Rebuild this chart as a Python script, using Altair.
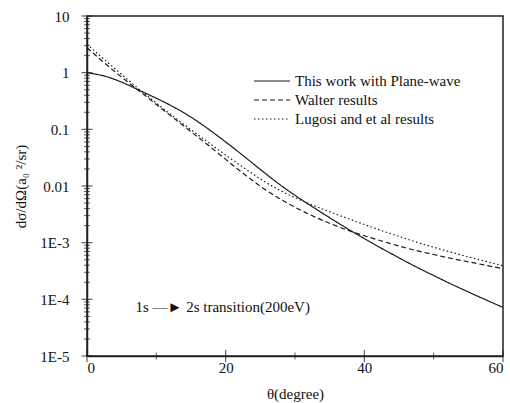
import altair as alt
import pandas as pd

# scattering angle (degree)
theta = [0, 2.5, 5, 7.5, 10, 12.5, 15, 17.5, 20, 22.5, 25, 27.5, 30,
         32.5, 35, 37.5, 40, 42.5, 45, 47.5, 50, 52.5, 55, 57.5, 60]

# differential cross sections (a0^2/sr)
this_work = [1.0, 0.89, 0.69, 0.49, 0.355, 0.25, 0.166, 0.102, 0.060, 0.0347,
             0.0195, 0.0112, 0.0068, 0.0043, 0.00275, 0.00178, 0.00117, 7.9e-4,
             5.4e-4, 3.7e-4, 2.63e-4, 1.86e-4, 1.35e-4, 9.8e-5, 7.2e-5]
walter = [2.75, 1.48, 0.83, 0.48, 0.275, 0.158, 0.091, 0.0525, 0.0295, 0.0166,
          0.0098, 0.0062, 0.0042, 0.00295, 0.00219, 0.00166, 0.00132, 0.00107,
          8.7e-4, 7.2e-4, 6.2e-4, 5.25e-4, 4.6e-4, 4.0e-4, 3.47e-4]
lugosi = [3.16, 1.70, 0.93, 0.51, 0.29, 0.166, 0.098, 0.059, 0.035, 0.0214,
          0.0132, 0.0087, 0.0062, 0.0046, 0.0035, 0.0027, 0.0021, 0.00162,
          0.00129, 0.00102, 8.3e-4, 6.8e-4, 5.6e-4, 4.7e-4, 3.9e-4]

series_names = ["This work with Plane-wave", "Walter results", "Lugosi and et al results"]

# tick positions
x_major_ticks = [0, 20, 40, 60]
x_minor_ticks = [10, 30, 50]
y_major_ticks = [1e-5, 1e-4, 1e-3, 0.01, 0.1, 1.0, 10.0]
y_minor_ticks = [k * 10.0 ** e for e in range(-5, 1) for k in range(2, 10)]

annotation_text = ["1s \u2014\u25ba 2s transition(200eV)"]
annotation_theta = [7.0]
annotation_value = [7.2e-5]

rows = []
for name, vals in zip(series_names, [this_work, walter, lugosi]):
    for t, v in zip(theta, vals):
        rows.append({"theta": t, "dcs": v, "series": name})
df = pd.DataFrame(rows)

FONT = "Liberation Serif"
INK = "#1a1a1a"
PLOT_H = 340

x_scale = alt.Scale(domain=[0, 60], nice=False, zero=False)
y_scale = alt.Scale(type="log", domain=[1e-5, 10], nice=False)

x_axis = alt.Axis(
    values=x_major_ticks,
    title="\u03b8(degree)",
    ticks=False,
    labelPadding=4,
    titlePadding=11,
    grid=False,
    labelOverlap=False,
)

y_axis = alt.Axis(
    values=y_major_ticks,
    title="d\u03c3/d\u03a9(a\u2080 \u00b2/sr)",
    labelExpr=(
        "datum.value >= 0.01 ? (datum.value >= 1 ? format(datum.value, 'd') : "
        "format(datum.value, '.2~f')) : '1E' + round(log(datum.value)/LN10)"
    ),
    ticks=False,
    labelPadding=18,
    titlePadding=11,
    grid=False,
    labelOverlap=False,
)

lines = alt.Chart(df).mark_line(
    interpolate="basis", strokeWidth=1.2, color=INK
).encode(
    x=alt.X("theta:Q", scale=x_scale, axis=x_axis),
    y=alt.Y("dcs:Q", scale=y_scale, axis=y_axis),
    strokeDash=alt.StrokeDash(
        "series:N",
        scale=alt.Scale(domain=series_names, range=[[1, 0], [5, 3], [1.5, 2.5]]),
        legend=alt.Legend(
            title=None,
            orient="none",
            legendX=175,
            legendY=55,
            symbolType="M-2,0H2",
            symbolSize=324,
            symbolStrokeColor=INK,
            symbolStrokeWidth=1.2,
            symbolFillColor="transparent",
            labelFont=FONT,
            labelFontSize=15,
            labelColor="#111",
            labelOffset=13,
            labelLimit=0,
            rowPadding=1,
            padding=0,
        ),
    ),
)

# tick marks drawn through the scales, centred on the axis lines
y_major = alt.Chart(pd.DataFrame({"dcs": y_major_ticks})).mark_tick(
    orient="horizontal", size=11, thickness=1.2, color=INK
).encode(y=alt.Y("dcs:Q", scale=y_scale, axis=y_axis), x=alt.value(0))
y_minor = alt.Chart(pd.DataFrame({"dcs": y_minor_ticks})).mark_tick(
    orient="horizontal", size=6, thickness=1, color=INK
).encode(y=alt.Y("dcs:Q", scale=y_scale, axis=y_axis), x=alt.value(0))
x_major = alt.Chart(pd.DataFrame({"theta": x_major_ticks})).mark_tick(
    orient="vertical", size=12, thickness=1.2, color=INK
).encode(x=alt.X("theta:Q", scale=x_scale, axis=x_axis), y=alt.value(PLOT_H))
x_minor = alt.Chart(pd.DataFrame({"theta": x_minor_ticks})).mark_tick(
    orient="vertical", size=7, thickness=1, color=INK
).encode(x=alt.X("theta:Q", scale=x_scale, axis=x_axis), y=alt.value(PLOT_H))

ann_df = pd.DataFrame({"theta": annotation_theta, "dcs": annotation_value, "text": annotation_text})
annotation = alt.Chart(ann_df).mark_text(
    align="left", baseline="middle", font=FONT, fontSize=15, color="#111"
).encode(
    x=alt.X("theta:Q", scale=x_scale, axis=x_axis),
    y=alt.Y("dcs:Q", scale=y_scale, axis=y_axis),
    text="text:N",
)

chart = alt.layer(lines, y_major, y_minor, x_major, x_minor, annotation).properties(
    width=416,
    height=PLOT_H,
    padding={"left": 87, "top": 16, "right": 7, "bottom": 47},
    autosize=alt.AutoSizeParams(type="none"),
    background="white",
).configure_view(
    stroke="#222", strokeWidth=1.5
).configure_axis(
    labelFont=FONT,
    titleFont=FONT,
    labelFontSize=15,
    titleFontSize=15,
    labelColor="#111",
    titleColor="#111",
    titleFontWeight="normal",
    domainColor="#222",
    domainWidth=1.5,
)

chart.save("out.html", embed_options={"renderer": "svg", "actions": False})
